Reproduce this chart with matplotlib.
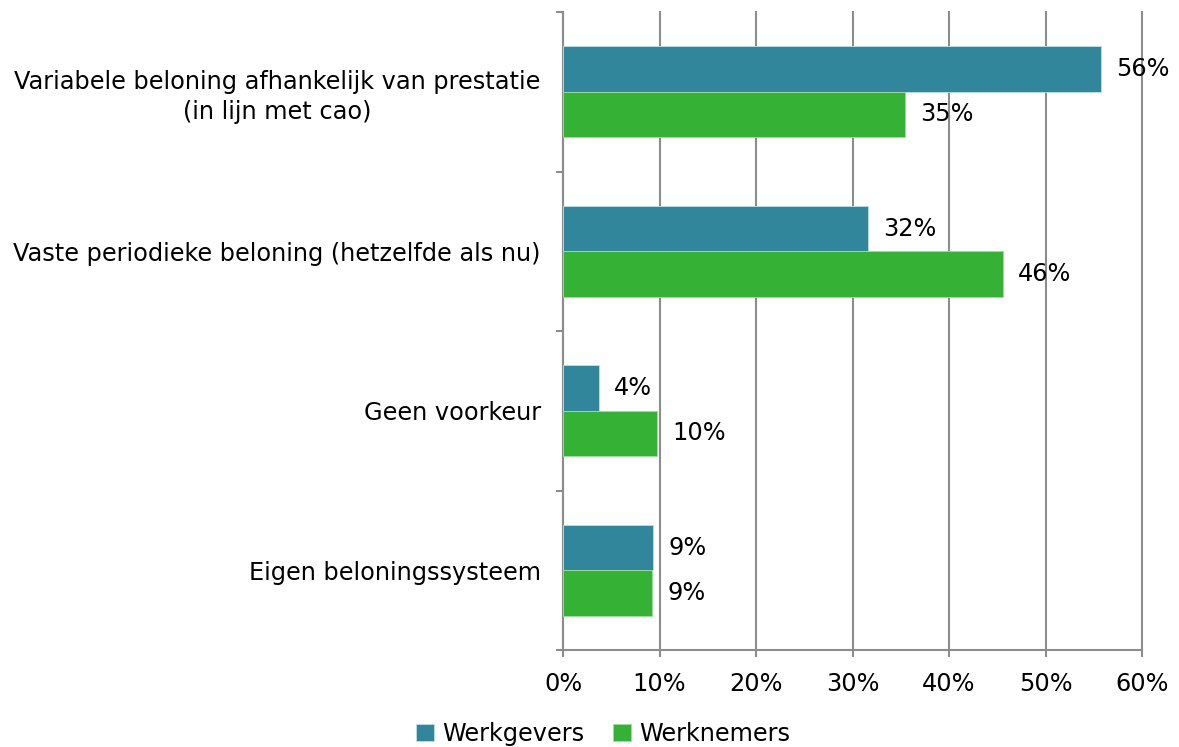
import matplotlib
matplotlib.use("Agg")
import matplotlib.pyplot as plt
import numpy as np

categories = [
    "Variabele beloning afhankelijk van prestatie\n(in lijn met cao)",
    "Vaste periodieke beloning (hetzelfde als nu)",
    "Geen voorkeur",
    "Eigen beloningssysteem",
]
werkgevers = [55.7, 31.6, 3.7, 9.3]
werknemers = [35.4, 45.6, 9.7, 9.2]
series_names = ["Werkgevers", "Werknemers"]
colors = ["#31869B", "#35B235"]
xticks = [0, 10, 20, 30, 40, 50, 60]
xtick_labels = ["0%", "10%", "20%", "30%", "40%", "50%", "60%"]

plt.rcParams['font.family'] = ['DejaVu Sans']
FS = 17.3

fig = plt.figure(figsize=(11.79, 7.47), dpi=100)
ax = fig.add_axes([563/1179, 1 - 650/747, (1142 - 563)/1179, (650 - 12)/747])

n = len(categories)
y = np.arange(n)
h = 0.285
gray = "#8c8c8c"

for i, (vals, name, c) in enumerate([(werkgevers, series_names[0], colors[0]),
                                      (werknemers, series_names[1], colors[1])]):
    pos = y - h/2 if i == 0 else y + h/2
    bars = ax.barh(pos, vals, height=h, color=c, label=name, zorder=3,
                   edgecolor="#bfe0e6" if i == 0 else "#9fdc9f", linewidth=0.6)
    for b, v in zip(bars, vals):
        ax.annotate(f"{v:.0f}%", (b.get_width(), b.get_y() + b.get_height()/2),
                    xytext=(11, 0), textcoords="offset points",
                    va="center", ha="left", fontsize=FS, color="#000000", zorder=4)

ax.set_ylim(n - 0.5, -0.5)
ax.set_xlim(0, 60)
ax.set_xticks(xticks)
ax.set_xticklabels(xtick_labels, fontsize=FS)
ax.set_yticks(y)
ax.set_yticklabels(categories, fontsize=FS, multialignment="center", linespacing=1.3)
ax.set_yticks(np.arange(n + 1) - 0.5, minor=True)
ax.tick_params(axis="y", which="major", length=0, pad=16)
ax.tick_params(axis="y", which="minor", length=5, width=1.5, color=gray, direction="out")
ax.tick_params(axis="x", which="major", length=5, width=1.5, color=gray, pad=11)

ax.grid(axis="x", color=gray, linewidth=1.5, zorder=0)
for gl in ax.get_xgridlines():
    gl.set_clip_on(False)
ax.set_axisbelow(True)
for s in ["top", "right"]:
    ax.spines[s].set_visible(False)
for s in ["left", "bottom"]:
    ax.spines[s].set_color(gray)
    ax.spines[s].set_linewidth(1.5)

handles, labels = ax.get_legend_handles_labels()
leg = fig.legend(handles, labels, loc="center", bbox_to_anchor=(603/1179, 1 - 734/747),
                 ncol=2, frameon=False, fontsize=FS, handlelength=0.75, handleheight=0.75,
                 handletextpad=0.35, columnspacing=1.2, borderaxespad=0)

fig.savefig("out.png", dpi=100)
